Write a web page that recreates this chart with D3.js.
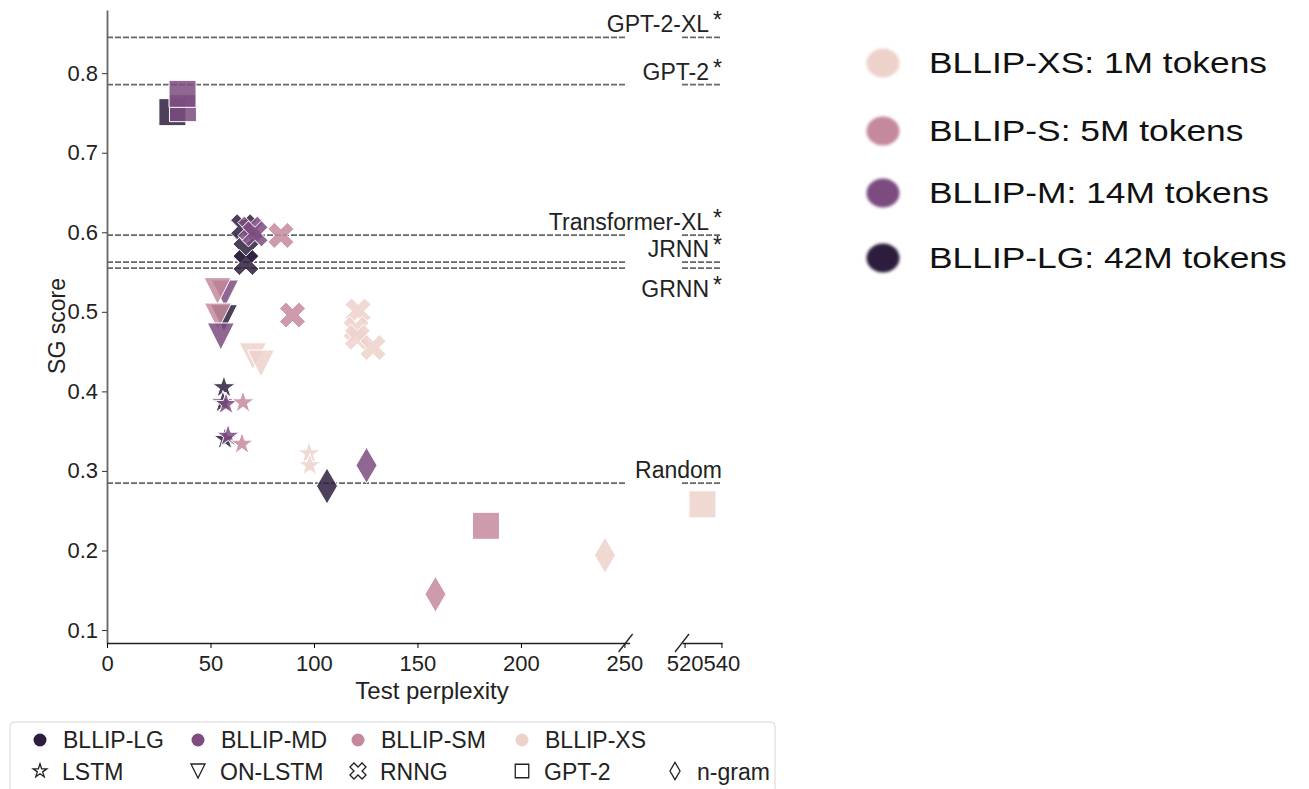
<!DOCTYPE html>
<html>
<head>
<meta charset="utf-8">
<script src="https://cdn.jsdelivr.net/npm/d3@7"></script>
<style>
  body { margin: 0; background: #fff; }
  svg { font-family: "Liberation Sans", Arial, sans-serif; }
</style>
</head>
<body>
<div id="chart"></div>
<script>
// corpora (index used in the point arrays) and their colours
var corpora = ['BLLIP-LG', 'BLLIP-MD', 'BLLIP-SM', 'BLLIP-XS'];
var corpusColors = ['#2d1e3e', '#7d4c80', '#c4899c', '#edd1cb'];
var modelNames = ['LSTM', 'ON-LSTM', 'RNNG', 'GPT-2', 'n-gram'];

// [corpus index, test perplexity, SG score]
var lstmPoints = [
  [0, 56.5, 0.405], [0, 56.0, 0.386], [1, 57.5, 0.384], [2, 65.7, 0.386],
  [0, 57.0, 0.340], [1, 58.5, 0.344], [2, 65.2, 0.334],
  [3, 97.6, 0.322], [3, 98.0, 0.307]
];
var onlstmPoints = [
  [1, 57.0, 0.523], [2, 53.4, 0.526], [0, 56.5, 0.492], [2, 53.6, 0.494],
  [1, 55.0, 0.469], [3, 70.5, 0.444], [3, 74.4, 0.435]
];
var rnngPoints = [
  [0, 66.0, 0.607], [0, 67.1, 0.577], [0, 67.1, 0.562], [1, 69.5, 0.604],
  [1, 71.5, 0.598], [2, 84.0, 0.596], [2, 89.6, 0.496],
  [3, 121.3, 0.501], [3, 120.3, 0.478], [3, 121.0, 0.468], [3, 128.5, 0.455]
];
var gpt2Points = [
  [0, 31.6, 0.751], [1, 36.7, 0.756], [1, 36.5, 0.774],
  [2, 183.1, 0.231], [3, 529.7, 0.258]
];
var ngramPoints = [
  [0, 106.3, 0.281], [1, 125.4, 0.307], [2, 158.7, 0.145], [3, 240.6, 0.194]
];

// reference scores (horizontal dashed lines)
var refNames = ['GPT-2-XL', 'GPT-2', 'Transformer-XL', 'JRNN', 'GRNN', 'Random'];
var refScores = [0.845, 0.7855, 0.5964, 0.5625, 0.555, 0.2847];
var refStar = [true, true, true, true, true, false];

var xTicksLeft = [0, 50, 100, 150, 200, 250];
var xTicksRight = [520, 540];
var yTicks = [0.1, 0.2, 0.3, 0.4, 0.5, 0.6, 0.7, 0.8];

var sideLabels = ['BLLIP-XS: 1M tokens', 'BLLIP-S: 5M tokens', 'BLLIP-M: 14M tokens', 'BLLIP-LG: 42M tokens'];
var sideCorpus = [3, 2, 1, 0];

var W = 1309, H = 789;
var svg = d3.select('#chart').append('svg')
    .attr('width', W).attr('height', H);

var defs = svg.append('defs');
defs.append('filter').attr('id', 'soft')
    .append('feGaussianBlur').attr('stdDeviation', 1.6);

// scales: a broken x axis with two segments
var xL = d3.scaleLinear().domain([0, 252.5]).range([107, 629.6]);
var xR = d3.scaleLinear().domain([518.6, 540.3]).range([682, 722]);
var y = d3.scaleLinear().domain([0.0837, 0.8794]).range([643, 10]);
function xpos(v) { return v > 300 ? xR(v) : xL(v); }

// marker shapes, centred on 0,0
function markerPath(model, k) {
  k = k || 1;
  var p;
  if (model === 'GPT-2') {
    var s = 13.5 * k;
    return 'M' + (-s) + ',' + (-s) + 'H' + s + 'V' + s + 'H' + (-s) + 'Z';
  }
  if (model === 'n-gram') {
    var w = 10.5 * k, h = 18 * k;
    return 'M0,' + (-h) + 'L' + w + ',0L0,' + h + 'L' + (-w) + ',0Z';
  }
  if (model === 'ON-LSTM') {
    var t = 13.5 * k;
    return 'M' + (-t) + ',' + (-t) + 'L' + t + ',' + (-t) + 'L0,' + t + 'Z';
  }
  if (model === 'RNNG') {
    var u = 13 / Math.SQRT2 * k;
    var plus = [[-0.5, -1.5], [0.5, -1.5], [0.5, -0.5], [1.5, -0.5], [1.5, 0.5], [0.5, 0.5],
                [0.5, 1.5], [-0.5, 1.5], [-0.5, 0.5], [-1.5, 0.5], [-1.5, -0.5], [-0.5, -0.5]];
    p = plus.map(function(d) {
      return [(d[0] - d[1]) / Math.SQRT2 * u, (d[0] + d[1]) / Math.SQRT2 * u];
    });
    return 'M' + p.map(function(d) { return d[0].toFixed(2) + ',' + d[1].toFixed(2); }).join('L') + 'Z';
  }
  // LSTM: five-pointed star
  var R = 12 * k, r = R * 0.382;
  p = [];
  for (var i = 0; i < 10; i++) {
    var a = -Math.PI / 2 + i * Math.PI / 5;
    var rr = i % 2 ? r : R;
    p.push([rr * Math.cos(a), rr * Math.sin(a)]);
  }
  return 'M' + p.map(function(d) { return d[0].toFixed(2) + ',' + d[1].toFixed(2); }).join('L') + 'Z';
}

// reference lines
var refs = svg.append('g').attr('class', 'refs');
refScores.forEach(function(v, i) {
  [[107, 627], [682, 722]].forEach(function(seg) {
    refs.append('line')
        .attr('x1', seg[0]).attr('x2', seg[1])
        .attr('y1', y(v)).attr('y2', y(v))
        .attr('stroke', '#666').attr('stroke-width', 1.8)
        .attr('stroke-dasharray', '6,2');
  });
  var ly = refNames[i] === 'GRNN' ? y(v) + 29 : y(v) - 5;
  var t = refs.append('text')
      .attr('x', 722).attr('y', ly)
      .attr('text-anchor', 'end')
      .style('font-size', '23px').style('fill', '#222')
      .text(refNames[i]);
  if (refStar[i]) {
    t.append('tspan').attr('dx', 4).attr('dy', -4).style('font-size', '23px').text('*');
  }
});

// axes
var yAxis = svg.append('g').attr('transform', 'translate(107,0)')
    .call(d3.axisLeft(y).tickValues(yTicks).tickFormat(d3.format('.1f')).tickSize(5).tickPadding(4).tickSizeOuter(0));
yAxis.select('.domain').attr('stroke', '#666').attr('stroke-width', 1.8);
yAxis.selectAll('.tick line').attr('stroke', '#333');
yAxis.selectAll('text').style('font-size', '22px').style('fill', '#222');

var xAxisL = svg.append('g').attr('transform', 'translate(0,643)')
    .call(d3.axisBottom(xL).tickValues(xTicksLeft).tickSize(5).tickPadding(7).tickSizeOuter(0));
var xAxisR = svg.append('g').attr('transform', 'translate(0,643)')
    .call(d3.axisBottom(xR).tickValues(xTicksRight).tickSize(5).tickPadding(7).tickSizeOuter(0));
[xAxisL, xAxisR].forEach(function(a) {
  a.select('.domain').attr('stroke', '#222').attr('stroke-width', 1.3);
  a.selectAll('text').style('font-size', '22px').style('fill', '#222');
});

// break marks
[xL.range()[1] - 4, xR.range()[0]].forEach(function(bx) {
  svg.append('line')
      .attr('x1', bx - 7).attr('y1', 652).attr('x2', bx + 7).attr('y2', 634)
      .attr('stroke', '#222').attr('stroke-width', 1.3);
});

svg.append('text')
    .attr('transform', 'translate(57,326) rotate(-90)')
    .attr('text-anchor', 'middle').attr('dy', '0.35em')
    .style('font-size', '23px').style('fill', '#222')
    .text('SG score');
svg.append('text')
    .attr('x', 432).attr('y', 699)
    .attr('text-anchor', 'middle')
    .style('font-size', '24px').style('fill', '#222')
    .text('Test perplexity');

// points
var groups = [['LSTM', lstmPoints], ['ON-LSTM', onlstmPoints], ['RNNG', rnngPoints],
              ['GPT-2', gpt2Points], ['n-gram', ngramPoints]];
var marks = svg.append('g').attr('class', 'marks');
groups.forEach(function(g) {
  marks.selectAll(null)
      .data(g[1])
      .enter().append('path')
      .attr('d', markerPath(g[0]))
      .attr('transform', function(d) { return 'translate(' + xpos(d[1]) + ',' + y(d[2]) + ')'; })
      .attr('fill', function(d) { return corpusColors[d[0]]; })
      .attr('fill-opacity', 0.85)
      .attr('stroke', '#fff').attr('stroke-width', 1);
});

// bottom legend
var leg = svg.append('g');
leg.append('rect')
    .attr('x', 10).attr('y', 722).attr('width', 765).attr('height', 90)
    .attr('rx', 4).attr('fill', '#fff').attr('stroke', '#d6d6d6');
var colX = [40, 198, 358, 522, 675];
corpora.forEach(function(c, i) {
  leg.append('circle').attr('cx', colX[i]).attr('cy', 740).attr('r', 6.5)
      .attr('fill', corpusColors[i]);
  leg.append('text').attr('x', colX[i] + 23).attr('y', 748)
      .style('font-size', '23px').style('fill', '#222').text(c);
});
var legScale = { 'LSTM': 0.6, 'ON-LSTM': 0.52, 'RNNG': 0.62, 'GPT-2': 0.5, 'n-gram': 0.48 };
modelNames.forEach(function(m, i) {
  leg.append('path').attr('d', markerPath(m, legScale[m]))
      .attr('transform', 'translate(' + colX[i] + ',771)')
      .attr('fill', 'none').attr('stroke', '#222').attr('stroke-width', 1.3);
  leg.append('text').attr('x', colX[i] + 22).attr('y', 780)
      .style('font-size', '23px').style('fill', '#222').text(m);
});

// side legend (token counts)
var sideY = [63, 131, 193, 258];
sideLabels.forEach(function(s, i) {
  svg.append('ellipse')
      .attr('cx', 883).attr('cy', sideY[i]).attr('rx', 16.5).attr('ry', 14.5)
      .attr('fill', corpusColors[sideCorpus[i]])
      .attr('filter', 'url(#soft)');
  svg.append('text')
      .attr('transform', 'translate(929,' + (sideY[i] + 10) + ') scale(1.22,1)')
      .style('font-size', '29px').style('fill', '#111')
      .text(s);
});
</script>
</body>
</html>
